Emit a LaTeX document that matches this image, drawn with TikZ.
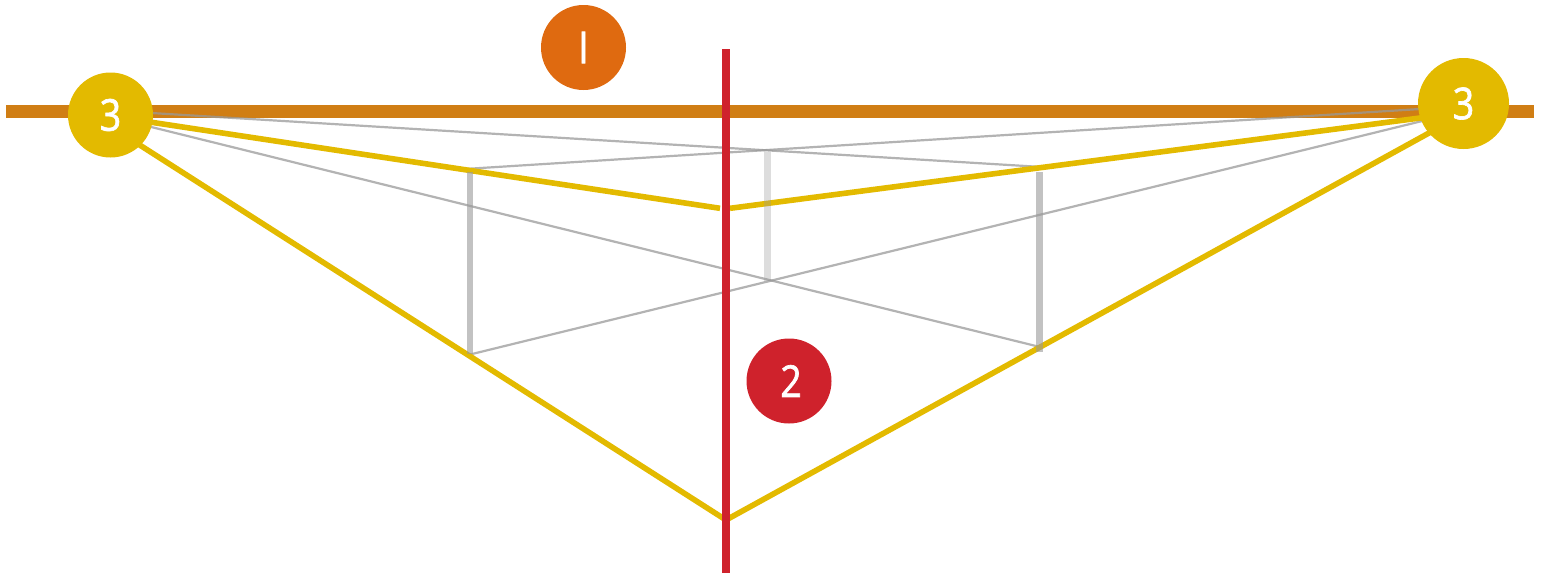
\documentclass[tikz,border=0pt]{standalone}
\usepackage{fontspec}
\setmainfont{Open Sans}[FakeStretch=0.85,FakeBold=1.5]
\definecolor{barc}{HTML}{D07E14}
\definecolor{yel}{HTML}{E3BA00}
\definecolor{redc}{HTML}{CF222C}
\definecolor{orc}{HTML}{DF6A10}
\definecolor{gry}{HTML}{999999}
\tikzset{
  badge/.style={circle,inner sep=0pt,text=white,font=\fontsize{44}{44}\selectfont},
  yline/.style={draw=yel,line width=5.6pt},
  gline/.style={draw=gry,line width=2.2pt,draw opacity=.75},
  post/.style={draw=gry,line width=6.6pt,draw opacity=.6},
  lightpost/.style={draw=gry,line width=6.6pt,draw opacity=.33}
}
\begin{document}
\begin{tikzpicture}[x=1pt,y=-1pt]
\useasboundingbox (0,0) rectangle (1546,573);
\coordinate (barL) at (6,111.5);
\coordinate (barR) at (1534,111.5);
\coordinate (axisT) at (726,49);
\coordinate (axisB) at (726,573);
\coordinate (gA) at (110,110.5);
\coordinate (gB) at (110,116.8);
\coordinate (gC) at (1463,106.3);
\coordinate (gD) at (1463,111);
\coordinate (tlL) at (468,168.8);
\coordinate (trR) at (1042,167);
\coordinate (blL) at (468,355);
\coordinate (brR) at (1042,347.5);
\coordinate (postLt) at (470,172);
\coordinate (postLb) at (470,354);
\coordinate (postRt) at (1039.5,172);
\coordinate (postRb) at (1039.5,352);
\coordinate (postMt) at (767.5,152);
\coordinate (postMb) at (767.5,281);
\coordinate (yLin) at (720,208.3);
\coordinate (yRin) at (730,208.3);
\coordinate (yB) at (726,520);
\coordinate (lc) at (110.5,115);
\coordinate (rc) at (1463.5,103.5);
\coordinate (ya) at (110,116);
\coordinate (yb) at (110,126);
\coordinate (yc) at (1463.5,112.3);
\coordinate (yd) at (1463.5,114);
\draw[barc,line width=13.5pt] (barL) -- (barR);
\draw[gline] (gA) -- (trR);
\draw[gline] (gC) -- (tlL);
\draw[gline] (gB) -- (brR);
\draw[gline] (gD) -- (blL);
\draw[yline] (yb) -- (yB);
\draw[yline] (yd) -- (yB);
\draw[yline] (ya) -- (yLin);
\draw[yline] (yc) -- (yRin);
\draw[post] (postLt) -- (postLb);
\draw[post] (postRt) -- (postRb);
\draw[lightpost] (postMt) -- (postMb);
\draw[redc,line width=8pt] (axisT) -- (axisB);
\node[badge,fill=orc,minimum size=85pt] (n1) at (583.5,47.5) {I};
\node[badge,fill=redc,minimum size=85pt] (n2) at (789,381) {\kern4pt 2};
\node[badge,fill=yel,minimum size=85pt] (n3l) at (lc) {3};
\node[badge,fill=yel,minimum size=91pt] (n3r) at (rc) {3};
\end{tikzpicture}
\end{document}
